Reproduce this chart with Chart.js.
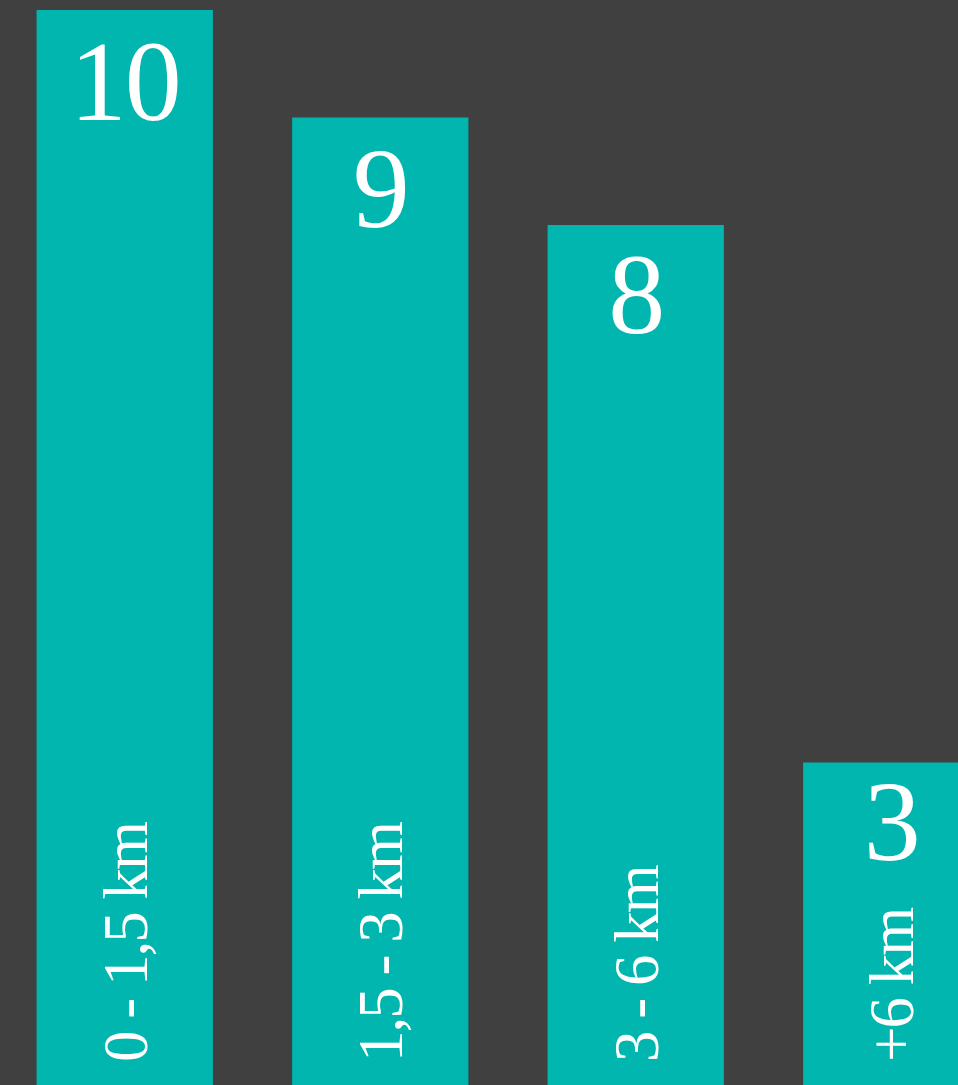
<!DOCTYPE html>
<html>
<head>
<meta charset="utf-8">
<script src="https://cdn.jsdelivr.net/npm/chart.js@4"></script>
<style>
  html, body { margin: 0; padding: 0; background: #404040; overflow: hidden; }
  #wrap { position: absolute; left: -3px; top: 0; width: 1022px; height: 1085px; }
</style>
</head>
<body>
<div id="wrap"><canvas id="myChart" width="1022" height="1085"></canvas></div>
<script>
const labels = ['0 - 1,5 km', '1,5 - 3 km', '3 - 6 km', '+6 km'];
const values = [10, 9, 8, 3];

const teal = '#00b6ae';
const serif = '"Liberation Serif", "DejaVu Serif", serif';
// baseline distance of the value below each bar top
const valueOffsets = [110, 109, 108, 97];

const barText = {
  id: 'barText',
  afterDatasetsDraw(chart) {
    const ctx = chart.ctx;
    const meta = chart.getDatasetMeta(0);
    ctx.save();
    ctx.fillStyle = '#ffffff';
    meta.data.forEach((bar, i) => {
      // value on top
      ctx.font = '114px ' + serif;
      ctx.letterSpacing = '-2px';
      ctx.textAlign = 'center';
      ctx.textBaseline = 'alphabetic';
      ctx.fillText(String(values[i]), bar.x, bar.y + valueOffsets[i]);
      // category, rotated at the bottom
      ctx.save();
      ctx.translate(bar.x + 22, chart.chartArea.bottom - 23);
      ctx.rotate(-Math.PI / 2);
      ctx.font = '63px ' + serif;
      ctx.letterSpacing = '-2px';
      ctx.textAlign = 'left';
      ctx.fillText(labels[i], 0, 0);
      ctx.restore();
    });
    ctx.restore();
  }
};

const config = {
  type: 'bar',
  data: {
    labels: labels,
    datasets: [{
      data: values,
      backgroundColor: teal,
      borderWidth: 0,
      categoryPercentage: 1,
      barPercentage: 0.69
    }]
  },
  options: {
    responsive: false,
    animation: false,
    layout: { padding: { top: 10, left: 0, right: 0, bottom: 0 } },
    scales: {
      x: { display: false },
      y: { display: false, min: 0, max: 10 }
    },
    plugins: {
      legend: { display: false },
      tooltip: { enabled: false }
    }
  },
  plugins: [barText]
};

const myChart = new Chart(document.getElementById('myChart'), config);
</script>
</body>
</html>
